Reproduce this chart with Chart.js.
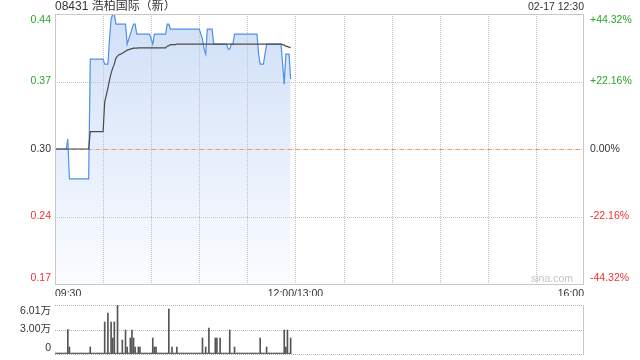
<!DOCTYPE html>
<html lang="zh-CN">
<head>
<meta charset="UTF-8" />
<title>08431 浩柏国际（新） 分时图</title>
<style>
  body { margin: 0; padding: 0; background: #fff; }
  #wrap { position: relative; width: 640px; height: 360px; overflow: hidden; }
  #priceBox { position: absolute; left: 0; top: 0; width: 640px; height: 296px; }
  #volBox { position: absolute; left: 0; top: 296px; width: 640px; height: 64px; }
</style>
</head>
<body>
<div id="wrap">
  <div id="priceBox"><canvas id="priceChart"></canvas></div>
  <div id="volBox"><canvas id="volChart"></canvas></div>
</div>

<script src="https://cdn.jsdelivr.net/npm/chart.js"></script>
<script>
  // 标题 / 时间
  const title = '08431 浩柏国际（新）';
  const stamp = '02-17 12:30';
  const prevClose = 0.305;

  // 纵轴刻度（价格 / 涨跌幅）
  const priceTickValues = [0.4402, 0.3726, 0.305, 0.2374, 0.1698];
  const priceTickLabels = ['0.44', '0.37', '0.30', '0.24', '0.17'];
  const pctTickLabels = ['+44.32%', '+22.16%', '0.00%', '-22.16%', '-44.32%'];

  // 横轴：分钟 0..330（09:30-12:00, 13:00-16:00）
  const timeGrid = [0, 30, 60, 90, 120, 150, 180, 210, 240, 270, 300, 330];
  const timeLabelAt = [0, 150, 330];
  const timeLabels = ['09:30', '12:00/13:00', '16:00'];

  // 成交量刻度
  const volTickValues = [60100, 30050, 0];
  const volTickLabels = ['6.01万', '3.00万', '0'];

  // 每分钟价格（09:30 起）
  const price = [
    0.305, 0.305, 0.305, 0.305, 0.305, 0.305, 0.305, 0.305, 0.315, 0.275,
    0.275, 0.275, 0.275, 0.275, 0.275, 0.275, 0.275, 0.275, 0.275, 0.275,
    0.275, 0.275, 0.395, 0.395, 0.395, 0.395, 0.395, 0.395, 0.395, 0.395,
    0.395, 0.39, 0.39, 0.39, 0.415, 0.435, 0.44, 0.44, 0.43, 0.43,
    0.43, 0.43, 0.43, 0.43, 0.43, 0.41, 0.415, 0.42, 0.425, 0.43,
    0.43, 0.42, 0.42, 0.42, 0.42, 0.42, 0.42, 0.42, 0.42, 0.42,
    0.415, 0.41, 0.42, 0.42, 0.42, 0.42, 0.42, 0.42, 0.42, 0.42,
    0.43, 0.43, 0.425, 0.425, 0.425, 0.425, 0.425, 0.425, 0.425, 0.425,
    0.425, 0.425, 0.425, 0.425, 0.425, 0.425, 0.425, 0.425, 0.425, 0.425,
    0.425, 0.42, 0.415, 0.405, 0.40, 0.425, 0.425, 0.425, 0.425, 0.41,
    0.41, 0.41, 0.41, 0.41, 0.41, 0.41, 0.41, 0.41, 0.405, 0.405,
    0.41, 0.41, 0.42, 0.42, 0.42, 0.42, 0.42, 0.42, 0.42, 0.42,
    0.42, 0.42, 0.42, 0.42, 0.42, 0.42, 0.42, 0.40, 0.39, 0.39,
    0.39, 0.40, 0.41, 0.41, 0.41, 0.41, 0.41, 0.41, 0.41, 0.41,
    0.41, 0.41, 0.39, 0.37, 0.40, 0.40, 0.40, 0.375
  ];

  // 均价
  const avgPrice = [
    0.305, 0.305, 0.305, 0.305, 0.305, 0.305, 0.305, 0.305, 0.305, 0.305,
    0.305, 0.305, 0.305, 0.305, 0.305, 0.305, 0.305, 0.305, 0.305, 0.305,
    0.305, 0.305, 0.3225, 0.3225, 0.3225, 0.3225, 0.3225, 0.3225, 0.3225, 0.3225,
    0.3225, 0.352, 0.359, 0.366, 0.374, 0.381, 0.386, 0.390, 0.396, 0.398,
    0.3995, 0.400, 0.401, 0.402, 0.403, 0.404, 0.4045, 0.405, 0.4055, 0.406,
    0.406, 0.406, 0.4063, 0.4063, 0.4063, 0.4063, 0.4063, 0.4063, 0.4063, 0.4063,
    0.4063, 0.4063, 0.4063, 0.4063, 0.4063, 0.4063, 0.4063, 0.4063, 0.4063, 0.4063,
    0.408, 0.4085, 0.4095, 0.4095, 0.4095, 0.4095, 0.410, 0.410, 0.410, 0.410,
    0.410, 0.410, 0.410, 0.410, 0.410, 0.410, 0.410, 0.410, 0.410, 0.410,
    0.410, 0.410, 0.410, 0.410, 0.410, 0.410, 0.410, 0.410, 0.410, 0.410,
    0.410, 0.410, 0.410, 0.410, 0.410, 0.410, 0.410, 0.410, 0.410, 0.410,
    0.410, 0.410, 0.410, 0.410, 0.410, 0.410, 0.410, 0.410, 0.410, 0.410,
    0.410, 0.410, 0.410, 0.410, 0.410, 0.410, 0.410, 0.410, 0.410, 0.410,
    0.410, 0.410, 0.410, 0.410, 0.410, 0.410, 0.410, 0.410, 0.410, 0.410,
    0.410, 0.410, 0.4095, 0.409, 0.408, 0.4075, 0.407, 0.4065
  ];

  // 每分钟成交量（股）
  const volume = [
    0, 0, 0, 0, 0, 0, 0, 0, 30000, 8600,
    0, 0, 0, 0, 0, 0, 0, 0, 0, 0,
    0, 0, 8600, 0, 0, 0, 0, 0, 0, 0,
    0, 39300, 0, 50300, 0, 39300, 19600, 39300, 0, 60100,
    0, 0, 17200, 0, 29400, 8600, 0, 19600, 29400, 19600,
    8600, 0, 8600, 8600, 0, 0, 0, 0, 0, 0,
    0, 19600, 8600, 8600, 0, 0, 0, 0, 0, 0,
    0, 55200, 0, 8600, 0, 0, 8600, 0, 0, 0,
    0, 0, 0, 0, 0, 0, 0, 0, 0, 0,
    0, 0, 19600, 0, 8600, 0, 31900, 0, 0, 0,
    19600, 19600, 0, 19600, 0, 0, 0, 0, 0, 29400,
    0, 0, 8600, 0, 0, 0, 0, 0, 0, 0,
    0, 0, 0, 0, 0, 0, 0, 0, 19600, 0,
    0, 0, 8600, 0, 0, 0, 0, 0, 0, 0,
    0, 0, 0, 29400, 8600, 29400, 0, 19600
  ];

  const FONT = '"Liberation Sans", Arial, "Noto Sans CJK SC", sans-serif';
  const GREEN = '#2ba52b', RED = '#f23333', GRAY = '#333';
  const GRID = '#c2c2c2';
  const yMax = priceTickValues[0], yMin = priceTickValues[priceTickValues.length - 1];

  function tickColor(v) {
    if (Math.abs(v - prevClose) < 1e-6) return GRAY;
    return v > prevClose ? GREEN : RED;
  }

  function line(ctx, x1, y1, x2, y2, color, dash) {
    ctx.strokeStyle = color;
    ctx.setLineDash(dash);
    ctx.beginPath();
    ctx.moveTo(x1, y1);
    ctx.lineTo(x2, y2);
    ctx.stroke();
  }

  // 网格画在填充之上、折线之下
  const priceGrid = {
    id: 'priceGrid',
    beforeDatasetsDraw(chart) {
      const { ctx, chartArea: a, scales } = chart;
      ctx.save();
      ctx.lineWidth = 1;
      timeGrid.forEach(m => {
        if (m === 0 || m === 330) return;
        const x = Math.round(scales.x.getPixelForValue(m)) + 0.5;
        line(ctx, x, a.top, x, a.bottom, GRID, [1, 1]);
      });
      priceTickValues.forEach(v => {
        if (v === yMin || v === yMax) return;
        const y = Math.round(scales.y.getPixelForValue(v)) + 0.5;
        line(ctx, a.left, y, a.right, y, GRID, [1, 1]);
        if (Math.abs(v - prevClose) < 1e-6) {
          line(ctx, a.left + 1, y, a.right, y, '#f39a5c', [4, 4]);
        }
      });
      ctx.restore();
    }
  };

  // 边框 + 文字
  const priceDecor = {
    id: 'priceDecor',
    afterDraw(chart) {
      const { ctx, chartArea: a, scales } = chart;
      ctx.save();
      ctx.strokeStyle = '#c8c8c8';
      ctx.lineWidth = 1;
      ctx.strokeRect(a.left + 0.5, a.top + 0.5, a.right - a.left - 1, a.bottom - a.top);

      ctx.fillStyle = GRAY;
      ctx.textBaseline = 'middle';
      ctx.font = '12px ' + FONT;
      ctx.textAlign = 'left';
      ctx.fillText(title, a.left, 7);
      ctx.font = '10.5px ' + FONT;
      ctx.textAlign = 'right';
      ctx.fillText(stamp, a.right, 7);

      const last = priceTickValues.length - 1;
      priceTickValues.forEach((v, i) => {
        let y = scales.y.getPixelForValue(v);
        if (i === 0) y += 6;
        if (i === last) y -= 6;
        ctx.fillStyle = tickColor(v);
        ctx.textAlign = 'right';
        ctx.fillText(priceTickLabels[i], a.left - 4, y);
        ctx.textAlign = 'left';
        ctx.fillText(pctTickLabels[i], a.right + 6, y);
      });

      ctx.fillStyle = GRAY;
      const aligns = ['left', 'center', 'right'];
      timeLabelAt.forEach((m, i) => {
        ctx.textAlign = aligns[i];
        ctx.fillText(timeLabels[i], scales.x.getPixelForValue(m), a.bottom + 10);
      });

      ctx.fillStyle = '#c4c4c4';
      ctx.textAlign = 'right';
      ctx.fillText('sina.com', a.right - 11, a.bottom - 5);
      ctx.restore();
    }
  };

  const volDecor = {
    id: 'volDecor',
    beforeDatasetsDraw(chart) {
      const { ctx, chartArea: a, scales } = chart;
      ctx.save();
      ctx.lineWidth = 1;
      volTickValues.forEach(v => {
        const y = Math.round(scales.y.getPixelForValue(v)) + 0.5;
        line(ctx, a.left, y, a.right, y, '#b4b4b4', [1, 1]);
      });
      ctx.restore();
    },
    afterDraw(chart) {
      const { ctx, chartArea: a, scales } = chart;
      ctx.save();
      ctx.lineWidth = 1;
      line(ctx, a.right - 0.5, a.top, a.right - 0.5, a.bottom, '#c8c8c8', []);

      ctx.font = '10.5px ' + FONT;
      ctx.fillStyle = GRAY;
      ctx.textAlign = 'right';
      ctx.textBaseline = 'middle';
      const last = volTickValues.length - 1;
      volTickValues.forEach((v, i) => {
        let y = scales.y.getPixelForValue(v);
        if (i === 0) y += 6;
        if (i === last) y -= 6;
        ctx.fillText(volTickLabels[i], a.left - 4, y);
      });
      ctx.restore();
    }
  };

  const hiddenAxis = (extra) => Object.assign({
    ticks: { display: false },
    grid: { display: false },
    border: { display: false }
  }, extra);

  new Chart(document.getElementById('priceChart'), {
    type: 'line',
    data: {
      datasets: [
        {
          label: '均价',
          data: avgPrice.map((v, i) => ({ x: i, y: v })),
          borderColor: '#4a4a4a',
          borderWidth: 1.2,
          pointRadius: 0,
          tension: 0,
          fill: false
        },
        {
          label: '价格',
          data: price.map((v, i) => ({ x: i, y: v })),
          borderColor: '#4f8fe8',
          borderWidth: 1.2,
          pointRadius: 0,
          tension: 0,
          fill: 'start',
          backgroundColor: c => {
            const a = c.chart.chartArea;
            if (!a) return '#e2ebfa';
            const g = c.chart.ctx.createLinearGradient(0, a.top, 0, a.bottom);
            g.addColorStop(0, '#d0e0f8');
            g.addColorStop(1, '#fbfcff');
            return g;
          }
        }
      ]
    },
    options: {
      responsive: true,
      maintainAspectRatio: false,
      animation: false,
      events: [],
      layout: { padding: { top: 14, bottom: 12, left: 0, right: 0 } },
      plugins: {
        legend: { display: false },
        tooltip: { enabled: false },
        filler: { drawTime: 'beforeDatasetsDraw' }
      },
      scales: {
        x: hiddenAxis({ type: 'linear', min: 0, max: 330, offset: false, afterFit: s => { s.height = 0; } }),
        y: hiddenAxis({ position: 'left', min: yMin, max: yMax, afterFit: s => { s.width = 55; } }),
        y2: hiddenAxis({ position: 'right', min: yMin, max: yMax, afterFit: s => { s.width = 56; } })
      }
    },
    plugins: [priceGrid, priceDecor]
  });

  new Chart(document.getElementById('volChart'), {
    type: 'bar',
    data: {
      datasets: [{
        label: '成交量',
        data: volume.map((v, i) => ({ x: i, y: v })),
        backgroundColor: '#555555',
        barThickness: 1,
        minBarLength: 1
      }]
    },
    options: {
      responsive: true,
      maintainAspectRatio: false,
      animation: false,
      events: [],
      layout: { padding: { top: 9, bottom: 6, left: 0, right: 0 } },
      plugins: { legend: { display: false }, tooltip: { enabled: false } },
      scales: {
        x: hiddenAxis({ type: 'linear', min: 0, max: 330, offset: false, afterFit: s => { s.height = 0; } }),
        y: hiddenAxis({ position: 'left', min: 0, max: volTickValues[0], afterFit: s => { s.width = 55; } }),
        y2: hiddenAxis({ position: 'right', min: 0, max: volTickValues[0], afterFit: s => { s.width = 56; } })
      }
    },
    plugins: [volDecor]
  });
</script>
</body>
</html>
